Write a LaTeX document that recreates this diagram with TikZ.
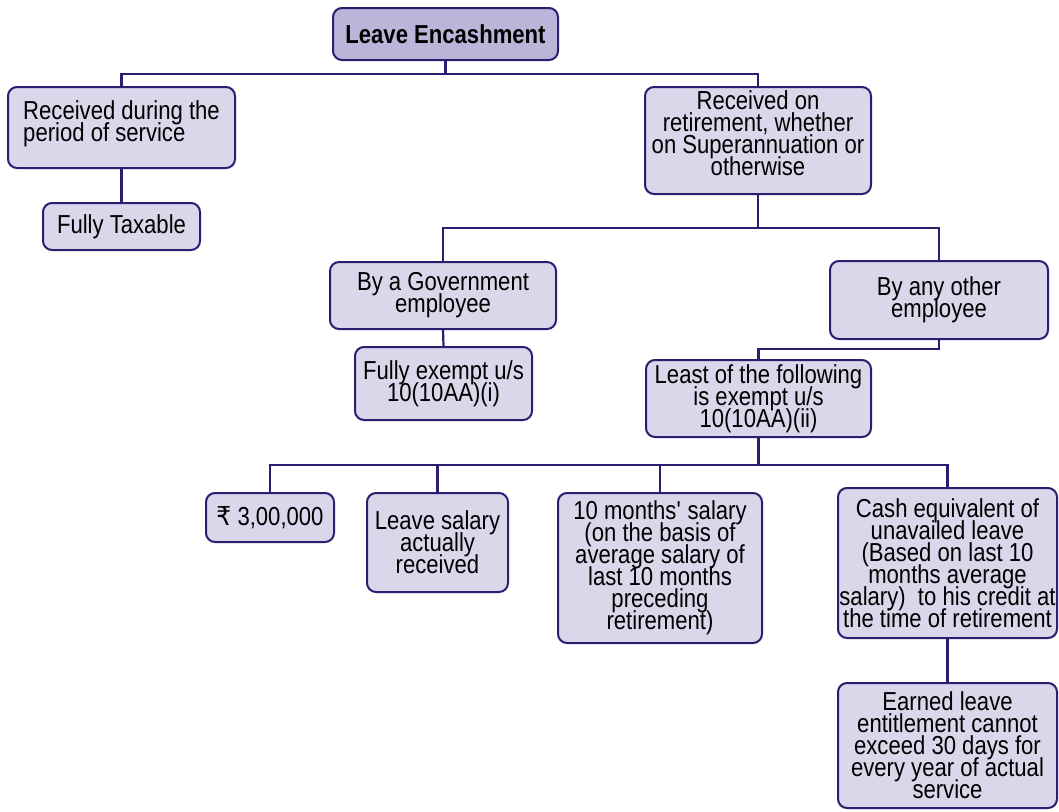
\documentclass[tikz,border=0pt]{standalone}
\usepackage{fontspec}
\setmainfont[FakeStretch=0.85]{Liberation Sans}
\newfontfamily\rupeefont[FakeStretch=0.9]{DejaVu Sans}
\definecolor{boxline}{HTML}{2B1D70}
\definecolor{boxfill}{HTML}{DAD7EA}
\definecolor{headfill}{HTML}{BDB5D9}
\lineskiplimit=-30pt

\begin{document}
\begin{tikzpicture}[x=1pt,y=-1pt,
  leafbox/.style={draw=boxline,fill=boxfill,line width=2pt,rounded corners=9pt,align=center,inner sep=0pt,
    font=\fontsize{26}{22}\selectfont},
  link/.style={draw=boxline,line width=2.2pt}]
\useasboundingbox (0,0) rectangle (1059,811);
\node[leafbox,fill=headfill,font=\fontsize{26}{22}\selectfont\bfseries,minimum width=225pt,minimum height=52pt] (head) at (445.5,34) {Leave Encashment};
\node[leafbox,align=left,minimum width=227pt,minimum height=81pt,text depth=12pt] (svc) at (121.5,127.5) {Received during the\\period of service};
\node[leafbox,minimum width=157pt,minimum height=47pt] (taxable) at (121.5,226.5) {Fully Taxable};
\node[leafbox,minimum width=226pt,minimum height=107pt,text depth=14pt] (ret) at (758,140.5) {Received on\\retirement, whether\\on Superannuation or\\otherwise};
\node[leafbox,minimum width=226pt,minimum height=67pt] (govt) at (443,295.5) {By a Government\\employee};
\node[leafbox,minimum width=177pt,minimum height=73pt] (exempt) at (443.5,383.5) {Fully exempt u/s\\10(10AA)(i)};
\node[leafbox,minimum width=218pt,minimum height=78pt] (other) at (939,300) {By any other\\employee};
\node[leafbox,minimum width=225pt,minimum height=77pt] (least) at (758.5,398.5) {Least of the following\\is exempt u/s\\10(10AA)(ii)};
\node[leafbox,minimum width=128pt,minimum height=49pt] (rupee) at (270,517.5) {{\rupeefont ₹} 3,00,000};
\node[leafbox,minimum width=141pt,minimum height=99pt] (actual) at (437.5,542.5) {Leave salary\\actually\\received};
\node[leafbox,minimum width=204pt,minimum height=150pt] (tenm) at (660,568) {10 months\textquotesingle{} salary\\(on the basis of\\average salary of\\last 10 months\\preceding\\retirement)};
\node[leafbox,minimum width=219pt,minimum height=150pt] (cash) at (947.5,563) {Cash equivalent of\\unavailed leave\\(Based on last 10\\months average\\salary)~ to his credit at\\the time of retirement};
\node[leafbox,minimum width=219pt,minimum height=125pt] (earned) at (947.5,745.5) {Earned leave\\entitlement cannot\\exceed 30 days for\\every year of actual\\service};
\draw[link] (head.south) -- ++(0,13) -| (svc.north);
\draw[link] (head.south) -- ++(0,13) -| (ret.north);
\draw[link] (svc.south) -- (taxable.north);
\draw[link] (ret.south) -- ++(0,33) -| (govt.north);
\draw[link] (ret.south) -- ++(0,33) -| (other.north);
\draw[link] (govt.south) -- (exempt.north);
\draw[link] (other.south) -- ++(0,9) -| (least.north);
\draw[link] (least.south) -- ++(0,27) -| (rupee.north);
\draw[link] (least.south) -- ++(0,27) -| (actual.north);
\draw[link] (least.south) -- ++(0,27) -| (tenm.north);
\draw[link] (least.south) -- ++(0,27) -| (cash.north);
\draw[link] (cash.south) -- (earned.north);
\end{tikzpicture}
\end{document}
